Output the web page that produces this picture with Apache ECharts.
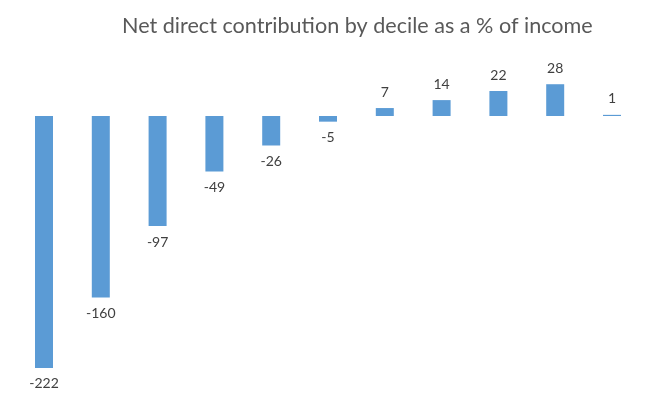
<!DOCTYPE html>
<html>
<head>
<meta charset="utf-8">
<script src="https://cdn.jsdelivr.net/npm/echarts@6/dist/echarts.min.js"></script>
<style>
  html, body {margin: 0; padding: 0; background: #fff;}
  #chart {width: 659px; height: 399px;}
</style>
</head>
<body>
<div id="chart"></div>
<script>
var deciles = ['1', '2', '3', '4', '5', '6', '7', '8', '9', '10', '11'];
var contribution = [-222, -160, -97, -49, -26, -5, 7, 14, 22, 28, 1];

var myChart = echarts.init(document.getElementById('chart'));

var bar_data = contribution.map(function (v) {
	return {
		value: v,
		label: {position: v < 0 ? 'bottom' : 'top'}
	};
});

var options = {
	animation: false,
	title: {
		text: 'Net direct contribution by decile as a % of income',
		left: 117, top: 10,
		textStyle: {fontFamily: 'Lato', fontSize: 21.6, fontWeight: 'normal', color: '#595959'}
	},
	grid: {left: 15.6, right: 18.6, top: 70.6, bottom: 22},
	xAxis: {
		type: 'category', data: deciles,
		axisLine: {show: false}, axisTick: {show: false}, axisLabel: {show: false}
	},
	yAxis: {
		type: 'value', min: -230, max: 40,
		axisLine: {show: false}, axisTick: {show: false}, axisLabel: {show: false}, splitLine: {show: false}
	},
	series: [{
		type: 'bar', data: bar_data, barWidth: 18,
		itemStyle: {color: '#5B9BD5'},
		label: {
			show: true, distance: 9,
			fontFamily: 'Lato', fontSize: 14, color: '#404040'
		}
	}]
};

myChart.setOption(options);
</script>
</body>
</html>
